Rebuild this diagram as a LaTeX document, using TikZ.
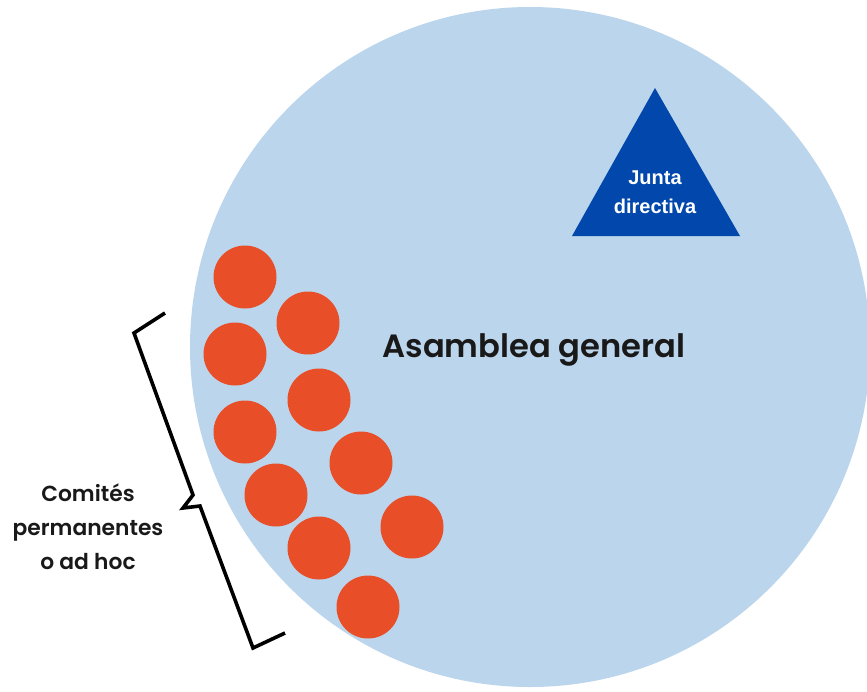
\documentclass[tikz,border=0pt]{standalone}
\usepackage{fontspec}
\newfontfamily\popfont{Poppins SemiBold}
\newfontfamily\arialfont{Liberation Sans}
\definecolor{assembly}{RGB}{187,214,236}
\definecolor{board}{RGB}{2,71,171}
\definecolor{committee}{RGB}{232,78,40}
\begin{document}
\begin{tikzpicture}[x=1pt,y=-1pt,
  committee/.style={circle,fill=committee,minimum size=63pt,inner sep=0pt},
  bracestyle/.style={draw=black,line width=3.6pt,line join=miter,line cap=butt}]
\useasboundingbox (0,0) rectangle (867,691);
\fill[white] (0,0) rectangle (867,691);
\node[circle,fill=assembly,minimum size=680pt,inner sep=0pt] (asamblea) at (530,347) {};
\coordinate (tA) at (655,88);
\coordinate (tB) at (572,236);
\coordinate (tC) at (740,236);
\fill[board] (tA) -- (tB) -- (tC) -- cycle;
\node[align=center,text=white,font=\arialfont\bfseries\fontsize{20}{29}\selectfont] (junta) at (655,192) {Junta\\directiva};
\node[font=\popfont\fontsize{32.2}{36}\selectfont,text=black!90] (aglabel) at (534,350) {Asamblea general};
\foreach \i/\x/\y in {1/245/277,2/308/323,3/235/354,4/319/400,5/245/432,6/361/463,7/276/495,8/412/527,9/319/548,10/368/607}
  \node[committee] (c\i) at (\x,\y) {};
\coordinate (b1) at (165,313);
\coordinate (b2) at (134,333);
\coordinate (b3) at (193,495);
\coordinate (b4) at (183,508);
\coordinate (b5) at (200,506);
\coordinate (b6) at (253,648);
\coordinate (b7) at (285,633);
\draw[bracestyle] (b1) -- (b2) -- (b3) -- (b4) -- (b5) -- (b6) -- (b7);
\node[align=center,font=\popfont\fontsize{21.8}{34}\selectfont,text=black!90] (comites) at (88,527) {Comités\\permanentes\\o ad hoc};
\end{tikzpicture}
\end{document}
